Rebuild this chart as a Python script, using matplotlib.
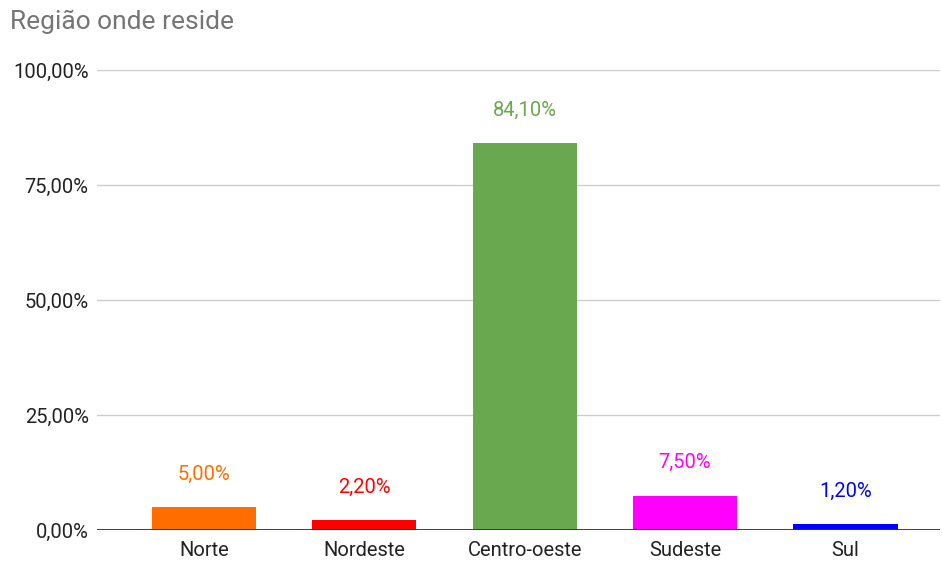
import matplotlib
matplotlib.use("Agg")
import matplotlib.pyplot as plt
from matplotlib.ticker import FuncFormatter

categories = ["Norte", "Nordeste", "Centro-oeste", "Sudeste", "Sul"]
values = [5.0, 2.2, 84.1, 7.5, 1.2]
colors = ["#ff6d01", "#ff0000", "#6aa84f", "#ff00ff", "#0000ff"]
yticks = [0, 25, 50, 75, 100]

plt.rcParams["font.family"] = ["Roboto", "DejaVu Sans"]

fig = plt.figure(figsize=(9.42, 5.62), dpi=100)
ax = fig.add_axes([97 / 942, 1 - 530 / 562, (940 - 97) / 942, 460 / 562])

x = list(range(len(categories)))
ax.bar(x, values, width=0.65, color=colors, zorder=3)

for xi, v, c in zip(x, values, colors):
    ax.annotate(f"{v:.2f}%".replace(".", ","), (xi, v), xytext=(0, 23.5),
                textcoords="offset points", ha="center", va="center",
                color=c, fontsize=14.5)

ax.set_xlim(-0.667, 4.59)
ax.set_ylim(0, 100)
ax.set_yticks(yticks)
ax.yaxis.set_major_formatter(FuncFormatter(lambda v, p: f"{v:.2f}%".replace(".", ",")))
ax.set_xticks(x)
ax.set_xticklabels(categories)
ax.grid(axis="y", color="#cccccc", linewidth=1, zorder=0)
ax.axhline(0, color="#333333", linewidth=1.3, zorder=4)
for s in ax.spines.values():
    s.set_visible(False)
ax.tick_params(axis="both", length=0, labelsize=14.5, colors="#222222")
ax.tick_params(axis="y", pad=6)
ax.tick_params(axis="x", pad=8)

fig.text(10 / 942, 1 - 22 / 562, "Região onde reside", fontsize=19,
         color="#757575", ha="left", va="center")

fig.savefig("out.png", dpi=100, facecolor="white")
